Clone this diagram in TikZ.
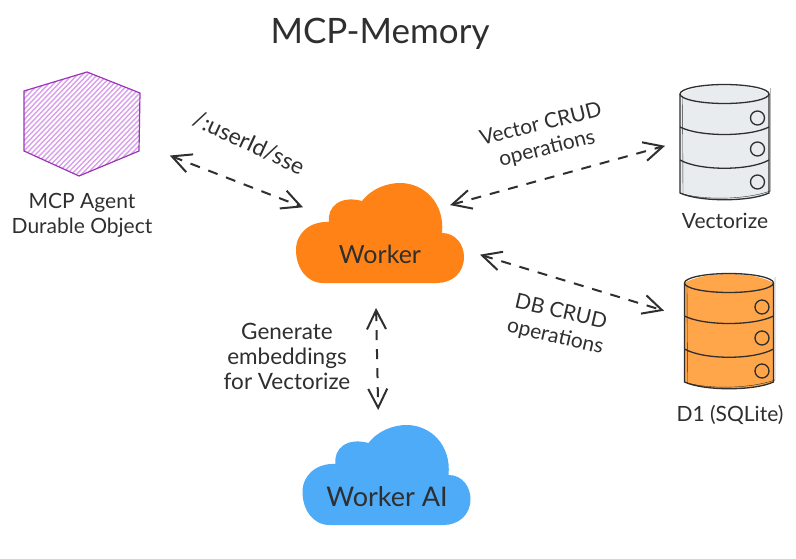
\documentclass[tikz,border=0pt]{standalone}
\usepackage{fontspec}
\setmainfont{Lato}
\usetikzlibrary{arrows.meta}

\definecolor{ink}{HTML}{2F2F2F}
\definecolor{agentline}{HTML}{9C36B5}
\definecolor{agenthatch}{HTML}{D9A0EC}
\definecolor{workerfill}{HTML}{FF8216}
\definecolor{aifill}{HTML}{4DABF7}
\definecolor{vecfill}{HTML}{E9ECEF}
\definecolor{dbfill}{HTML}{FFA64A}

% cloud outline, origin at the cloud's top left corner
\newcommand{\cloudpath}{(27,100) .. controls (10,100) and (0,84) .. (0,67)
  .. controls (0,50) and (14,38) .. (33,39)
  .. controls (31,24) and (44,12) .. (66,18)
  .. controls (76,5) and (92,0) .. (104,0)
  .. controls (128,0) and (149,20) .. (146,50)
  .. controls (160,50) and (168,62) .. (168,74)
  .. controls (168,90) and (156,100) .. (141,100) -- cycle}

% one database drum, origin at the centre of its lid
\newcommand{\dbshape}[3]{
  \begin{scope}[shift={(#1,#2)}]
    \fill[#3] (-44.5,0) -- (-44.5,99) .. controls (-25,108) and (25,108) .. (44.5,99) -- (44.5,0)
      .. controls (25,-12) and (-25,-12) .. (-44.5,0) -- cycle;
    \draw[dbline] (-44.5,0) -- (-44.5,99) .. controls (-25,108) and (25,108) .. (44.5,99) -- (44.5,0);
    \draw[dbline,thin] (-42,2) -- (-41.5,100) .. controls (-20,106) and (20,106) .. (46,97) -- (46,-6);
    \draw[dbline] (0,0) ellipse [x radius=44.5, y radius=9.5];
    \draw[dbline] (-44.5,33) .. controls (-25,43) and (25,43) .. (44.5,33);
    \draw[dbline] (-44.5,66) .. controls (-25,77) and (25,77) .. (44.5,66);
    \foreach \ypos in {24,55,88} {
      \draw[dbline] (33,\ypos) circle [radius=7];
    }
  \end{scope}
}

\begin{document}
\begin{tikzpicture}[
  x=1pt,
  y=-1pt,
  txt/.style={text=ink, align=center, inner sep=0pt, font=\fontsize{21}{25}\selectfont},
  box/.style={inner sep=0pt, outer sep=0pt, minimum width=#1},
  dbline/.style={draw=ink, line width=1.3pt},
  arr/.style={{Straight Barb[length=19pt,width=19pt]}-{Straight Barb[length=19pt,width=19pt]},
    draw=ink, line width=2pt, dash pattern=on 10pt off 9pt}
]
\useasboundingbox (0,0) rectangle (796,559);

% Agent hexagon
\begin{scope}
  \clip (24,91) -- (87,72) -- (140,93) -- (139,151) -- (79,176) -- (24,151) -- cycle;
  \foreach \k in {30,35,...,270} {
    \draw[agenthatch, line width=1.4pt] (\k-100,176) -- (\k,72);
  }
\end{scope}
\draw[agentline, line width=1.2pt] (24,91) -- (87,72) -- (140,93) -- (139,151) -- (79,176) -- (24,151) -- cycle;

% Clouds
\fill[workerfill, shift={(296,183)}] \cloudpath;
\fill[aifill, shift={(302.5,425)}] \cloudpath;

% Database drums
\dbshape{724.5}{94}{vecfill}
\dbshape{729}{283}{dbfill}

% Boxes round the shapes, the arrows start from these
\node[box=116pt, minimum height=104pt] (agent) at (82,124) {};
\node[box=168pt, minimum height=101pt] (worker) at (380,233.5) {};
\node[box=169pt, minimum height=101pt] (workerai) at (386.5,475.5) {};
\node[box=90pt, minimum height=115pt] (vectorize) at (725,142.5) {};
\node[box=90pt, minimum height=114pt] (dbone) at (730,330) {};

% Labels
\node[txt, font=\fontsize{35}{38}\selectfont] (title) at (380,34) {MCP-Memory};
\node[txt] (agentlbl) at (82,215) {MCP Agent\\Durable Object};
\node[txt, font=\fontsize{25}{28}\selectfont] (workerlbl) at (380,254) {Worker};
\node[txt, font=\fontsize{27}{30}\selectfont] (ailbl) at (387,497) {Worker AI};
\node[txt] (vectorlbl) at (725,221) {Vectorize};
\node[txt] (dblbl) at (730,415) {D1 (SQLite)};
\node[txt, rotate=-25, font=\fontsize{23}{25}\selectfont] (ssetext) at (249,143) {/:userId/sse};
\node[txt, rotate=14] (vectext) at (544,137) {Vector CRUD\\operations};
\node[txt, rotate=-13] (dbtext) at (558,325) {DB CRUD\\operations};
\node[txt, font=\fontsize{22.5}{25}\selectfont] (embedtext) at (287,356) {Generate\\embeddings\\for Vectorize};

% Arrows
\draw[arr, shorten <=32pt, shorten >=-7.5pt] (agent.-19.3) -- (worker.161.4);
\draw[arr, shorten <=-14.5pt, shorten >=15.5pt] (worker.21.6) -- (vectorize.179.3);
\draw[arr, shorten <=16.7pt, shorten >=21.9pt] (worker.-11.9) -- (dbone.164.2);
\draw[arr, shorten <=24pt, shorten >=15pt] (worker.-95.1) -- (workerai.99.2);

\end{tikzpicture}
\end{document}
